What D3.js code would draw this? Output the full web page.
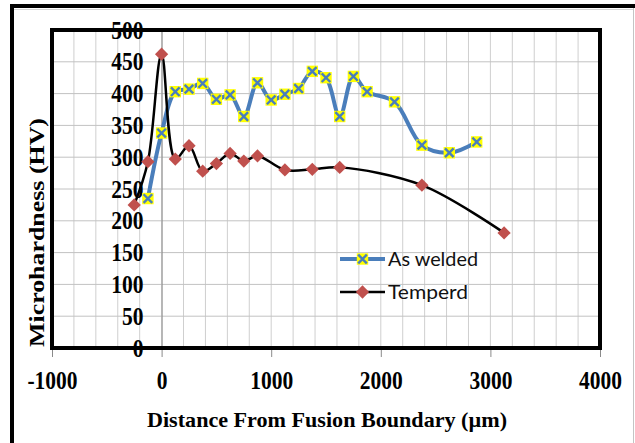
<!DOCTYPE html>
<html>
<head>
<meta charset="utf-8">
<script src="https://cdn.jsdelivr.net/npm/d3@7"></script>
<style>
	body { margin: 0; background: #fff; }
	svg { display: block; }
</style>
</head>
<body>
<script>
var weldX = [-125, 0, 125, 250, 375, 500, 625, 750, 875, 1000, 1125, 1250, 1375, 1500, 1625, 1750, 1875, 2125, 2375, 2625, 2875];
var weldY = [235, 338, 403, 407, 416, 391, 398, 364, 417, 390, 399, 408, 435, 425, 364, 427, 403, 387, 319, 307, 324];

var temperX = [-250, -125, 0, 125, 250, 375, 500, 625, 750, 875, 1125, 1375, 1625, 2375, 3125];
var temperY = [225, 293, 462, 297, 318, 278, 290, 306, 294, 302, 280, 281, 284, 256, 181];

var xTicks = [-1000, 0, 1000, 2000, 3000, 4000];
var yTicks = [0, 50, 100, 150, 200, 250, 300, 350, 400, 450, 500];
var seriesNames = ["As welded", "Temperd"];

var width = 635, height = 443;
var plotLeft = 52, plotRight = 600, plotTop = 30, plotBottom = 348;
var serif = "'Liberation Serif', 'Times New Roman', serif";

var svg = d3.select("body").append("svg")
	.attr("width", width)
	.attr("height", height);

// outer frame
svg.append("line").attr("x1", 14).attr("x2", 634).attr("y1", 9.5).attr("y2", 9.5)
	.attr("stroke", "#d6d6d6").attr("stroke-width", 1);
svg.append("line").attr("x1", 633.5).attr("x2", 633.5).attr("y1", 8).attr("y2", height)
	.attr("stroke", "#c4c4c4").attr("stroke-width", 1);
svg.append("path").attr("d", "M12," + height + "V6H" + width)
	.attr("fill", "none").attr("stroke", "#000").attr("stroke-width", 4);

var x = d3.scaleLinear().domain([-1000, 4000]).range([plotLeft, plotRight]);
var y = d3.scaleLinear().domain([0, 500]).range([plotBottom, plotTop]);

// grid
svg.append("g").selectAll("line").data(d3.range(-800, 4000, 200)).enter().append("line")
	.attr("x1", function(d) { return x(d); }).attr("x2", function(d) { return x(d); })
	.attr("y1", plotTop).attr("y2", plotBottom)
	.attr("stroke", "#cfcfcf").attr("stroke-width", 1);
svg.append("g").selectAll("line").data(yTicks.slice(1, -1)).enter().append("line")
	.attr("x1", plotLeft).attr("x2", plotRight)
	.attr("y1", function(d) { return y(d); }).attr("y2", function(d) { return y(d); })
	.attr("stroke", "#c2c2c2").attr("stroke-width", 1);

// y axis at x = 0
var yAxis = svg.append("g")
	.attr("transform", "translate(" + x(0) + ",0)")
	.call(d3.axisLeft(y).tickValues(yTicks).tickSize(0).tickFormat(function(d) { return String(d); }));
yAxis.select(".domain").attr("stroke", "#8a8a8a");
yAxis.selectAll("text")
	.attr("x", null).attr("dy", null)
	.attr("transform", "translate(-18,8) scale(1,1.14)")
	.attr("text-anchor", "end")
	.style("font-family", serif).style("font-weight", "bold").style("font-size", "21.5px")
	.attr("fill", "#000");

// x axis
var xAxis = svg.append("g")
	.attr("transform", "translate(0," + plotBottom + ")")
	.call(d3.axisBottom(x).tickValues(xTicks).tickSize(9).tickFormat(function(d) { return String(d); }));
xAxis.select(".domain").remove();
xAxis.selectAll("line").attr("stroke", "#8a8a8a");
xAxis.selectAll("text")
	.attr("y", null).attr("dy", null)
	.attr("transform", "translate(0,41) scale(1,1.14)")
	.style("font-family", serif).style("font-weight", "bold").style("font-size", "21.5px")
	.attr("fill", "#000");

// plot border
svg.append("rect")
	.attr("x", plotLeft).attr("y", plotTop)
	.attr("width", plotRight - plotLeft).attr("height", plotBottom - plotTop)
	.attr("fill", "none").attr("stroke", "#000").attr("stroke-width", 4);

var line = d3.line()
	.x(function(d) { return x(d[0]); })
	.y(function(d) { return y(d[1]); })
	.curve(d3.curveCatmullRom.alpha(0.5));

var weld = d3.zip(weldX, weldY);
var temper = d3.zip(temperX, temperY);

var square = d3.symbol(d3.symbolSquare, 130);
var cross = "M-4.3,-4.3L4.3,4.3M-4.3,4.3L4.3,-4.3";
var diamond = d3.symbol(d3.symbolSquare, 88);

function weldMarker(g) {
	g.append("path").attr("d", square).attr("fill", "#ffff00");
	g.append("path").attr("d", cross).attr("stroke", "#4a7ebb").attr("stroke-width", 2.4).attr("fill", "none");
}
function temperMarker(g) {
	g.append("path").attr("d", diamond).attr("transform", "rotate(45)").attr("fill", "#c0504d");
}

svg.append("path").datum(weld).attr("d", line)
	.attr("fill", "none").attr("stroke", "#4a7ebb").attr("stroke-width", 4).attr("stroke-linejoin", "round");
svg.append("g").selectAll("g").data(weld).enter().append("g")
	.attr("transform", function(d) { return "translate(" + x(d[0]) + "," + y(d[1]) + ")"; })
	.each(function() { weldMarker(d3.select(this)); });

svg.append("path").datum(temper).attr("d", line)
	.attr("fill", "none").attr("stroke", "#000").attr("stroke-width", 2.5).attr("stroke-linejoin", "round");
svg.append("g").selectAll("g").data(temper).enter().append("g")
	.attr("transform", function(d) { return "translate(" + x(d[0]) + "," + y(d[1]) + ")"; })
	.each(function() { temperMarker(d3.select(this)); });

// legend
var legend = svg.append("g").attr("transform", "translate(340,259)");
var items = legend.selectAll("g").data(seriesNames).enter().append("g")
	.attr("transform", function(d, i) { return "translate(0," + i * 33 + ")"; });
items.append("line").attr("x1", 0).attr("x2", 45)
	.attr("stroke", function(d, i) { return i == 0 ? "#4a7ebb" : "#000"; })
	.attr("stroke-width", function(d, i) { return i == 0 ? 4 : 2.5; });
items.append("g").attr("transform", "translate(22.5,0)")
	.each(function(d, i) { if (i == 0) weldMarker(d3.select(this)); else temperMarker(d3.select(this)); });
items.append("text")
	.attr("x", 48).attr("y", 7)
	.attr("textLength", function(d, i) { return i == 0 ? 90 : 80; })
	.attr("lengthAdjust", "spacingAndGlyphs")
	.style("font-family", "Lato, 'Open Sans', sans-serif").style("font-size", "19.5px")
	.attr("fill", "#111")
	.text(function(d) { return d; });

// axis titles
svg.append("text")
	.attr("x", 327).attr("y", 427)
	.attr("text-anchor", "middle")
	.attr("textLength", 360).attr("lengthAdjust", "spacingAndGlyphs")
	.style("font-family", serif).style("font-weight", "bold").style("font-size", "22px")
	.text("Distance From Fusion Boundary (µm)");

svg.append("text")
	.attr("transform", "translate(44,232.5) rotate(-90)")
	.attr("text-anchor", "middle")
	.attr("textLength", 229).attr("lengthAdjust", "spacingAndGlyphs")
	.style("font-family", serif).style("font-weight", "bold").style("font-size", "22px")
	.text("Microhardness  (HV)");
</script>
</body>
</html>
